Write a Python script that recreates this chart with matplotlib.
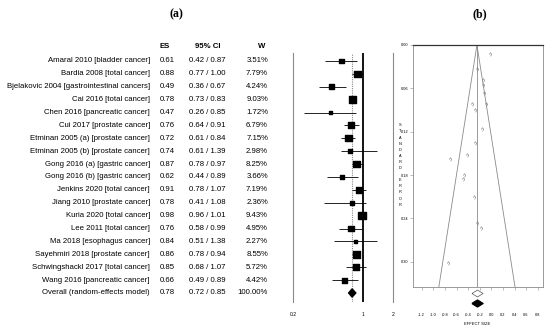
import matplotlib
matplotlib.use("Agg")
import matplotlib.pyplot as plt
import matplotlib.transforms as mtransforms

plt.rcParams['font.family'] = ['Liberation Sans', 'DejaVu Sans']

# ---- data ----
studies = [
    "Amaral 2010 [bladder cancer]",
    "Bardia 2008 [total cancer]",
    "Bjelakovic 2004 [gastrointestinal cancers]",
    "Cai 2016 [total cancer]",
    "Chen 2016 [pancreatic cancer]",
    "Cui 2017 [prostate cancer]",
    "Etminan 2005 (a) [prostate cancer]",
    "Etminan 2005 (b) [prostate cancer]",
    "Gong 2016 (a) [gastric cancer]",
    "Gong 2016 (b) [gastric cancer]",
    "Jenkins 2020 [total cancer]",
    "Jiang 2010 [prostate cancer]",
    "Kuria 2020 [total cancer]",
    "Lee 2011 [total cancer]",
    "Ma 2018 [esophagus cancer]",
    "Sayehmiri 2018 [prostate cancer]",
    "Schwingshackl 2017 [total cancer]",
    "Wang 2016 [pancreatic cancer]",
]
es = [0.61, 0.88, 0.49, 0.78, 0.47, 0.76, 0.72, 0.74, 0.87, 0.62, 0.91, 0.78, 0.98, 0.76, 0.84, 0.86, 0.85, 0.66]
ci_lo = [0.42, 0.77, 0.36, 0.73, 0.26, 0.64, 0.61, 0.61, 0.78, 0.44, 0.78, 0.41, 0.96, 0.58, 0.51, 0.78, 0.68, 0.49]
ci_hi = [0.87, 1.00, 0.67, 0.83, 0.85, 0.91, 0.84, 1.39, 0.97, 0.89, 1.07, 1.08, 1.01, 0.99, 1.38, 0.94, 1.07, 0.89]
weights = [3.51, 7.79, 4.24, 9.03, 1.72, 6.79, 7.15, 2.98, 8.25, 3.66, 7.19, 2.36, 9.43, 4.95, 2.27, 8.55, 5.72, 4.42]

overall_label = "Overall (random-effects model)"
overall_es = 0.78
overall_lo = 0.72
overall_hi = 0.85

# funnel plot: log effect size vs standard error
funnel_logrr = [-0.494, -0.128, -0.713, -0.248, -0.755, -0.274, -0.329, -0.301, -0.139,
                -0.478, -0.094, -0.248, -0.020, -0.274, -0.174, -0.151, -0.163, -0.416]
funnel_se = [0.186, 0.067, 0.158, 0.033, 0.302, 0.090, 0.082, 0.210, 0.056,
             0.180, 0.081, 0.247, 0.013, 0.136, 0.254, 0.048, 0.116, 0.152]
funnel_center = -0.248
funnel_xticks = [-1.2, -1.0, -0.8, -0.6, -0.4, -0.2, 0.0, 0.2, 0.4, 0.6, 0.8]
funnel_yticks = [0.0, 0.06, 0.12, 0.18, 0.24, 0.30]

W, H = 550, 332
fig = plt.figure(figsize=(W / 100, H / 100), dpi=100)

def fx(px):
    return px / W

def fy(py):
    return 1 - py / H

grey = '#8a8a8a'

# ---- (a) forest plot ----
ax = fig.add_axes([fx(293), fy(302), fx(100), 249 / H])
ax.set_xscale('log')
ax.set_xlim(0.2, 2)
n = len(studies)
ax.set_ylim(n + 0.7, -0.62)
for s in ax.spines.values():
    s.set_visible(False)

ax.axvline(0.2, color=grey, lw=0.8, clip_on=False)
ax.axvline(2, color=grey, lw=0.8, clip_on=False)
ax.axvline(1, color='black', lw=1.3)
ax.axvline(overall_es, color=grey, lw=0.8, ls=(0, (1, 1)))

rows = list(range(n))
ax.hlines(rows, ci_lo, ci_hi, color='black', lw=0.6)
ax.scatter(es, rows, s=[27 * w / 9.43 for w in weights], marker='s', color='black', zorder=3)
ax.fill([overall_lo, overall_es, overall_hi, overall_es],
        [n, n - 0.32, n, n + 0.32], color='black', zorder=3)

ax.set_xticks([0.2, 1, 2])
ax.set_xticklabels(['0.2', '1', '2'])
ax.minorticks_off()
ax.tick_params(axis='x', length=0, pad=7, labelsize=3.6)
ax.set_yticks([])

trans = mtransforms.blended_transform_factory(fig.transFigure, ax.transData)
fs = 5.6
hy = -1.1
ax.text(fx(165), hy, 'ES', transform=trans, ha='center', va='center', fontsize=fs, fontweight='bold')
ax.text(fx(208), hy, '95% CI', transform=trans, ha='center', va='center', fontsize=fs, fontweight='bold')
ax.text(fx(262), hy, 'W', transform=trans, ha='center', va='center', fontsize=fs, fontweight='bold')

labels = studies + [overall_label]
es_all = es + [overall_es]
lo_all = ci_lo + [overall_lo]
hi_all = ci_hi + [overall_hi]
w_all = weights + [100.0]
for i in range(n + 1):
    ax.text(fx(150), i, labels[i], transform=trans, ha='right', va='center', fontsize=fs)
    ax.text(fx(167), i, '%.2f' % es_all[i], transform=trans, ha='center', va='center', fontsize=fs)
    ax.text(fx(207), i, '%.2f / %.2f' % (lo_all[i], hi_all[i]), transform=trans,
            ha='center', va='center', fontsize=fs)
    ax.text(fx(268), i, '%.2f%%' % w_all[i], transform=trans, ha='right', va='center', fontsize=fs)

fig.text(fx(176), fy(14), '(a)', ha='center', va='center', fontsize=8.5,
         fontweight='bold', family='Liberation Serif')
fig.text(fx(480), fy(14), '(b)', ha='center', va='center', fontsize=8.5,
         fontweight='bold', family='Liberation Serif')

# ---- (b) funnel plot ----
fax = fig.add_axes([fx(413), fy(287), fx(130), 242 / H])
fax.set_xlim(-1.35, 0.891)
se_max = 0.335
fax.set_ylim(se_max, 0)
fax.spines['top'].set_color('#333333')
fax.spines['top'].set_linewidth(0.9)
for side in ['left', 'right', 'bottom']:
    fax.spines[side].set_color(grey)
    fax.spines[side].set_linewidth(0.6)

fax.axvline(funnel_center, color=grey, lw=0.6)
half = 1.96 * se_max
fax.plot([funnel_center - half, funnel_center, funnel_center + half], [se_max, 0, se_max],
         color=grey, lw=0.6)
fax.plot(funnel_logrr, funnel_se, linestyle='none', marker=[(-0.7, 0), (0, 1), (0.7, 0), (0, -1)],
         mfc='none', mec='#777777', ms=2.6, mew=0.4)

diamond = [(-1, 0), (0, 0.62), (1, 0), (0, -0.62), (-1, 0)]
dtrans = mtransforms.blended_transform_factory(fax.transData, fax.transAxes)
fax.plot([funnel_center], [-0.026], marker=diamond, ms=8, mfc='white', mec='#555555', mew=0.5,
         transform=dtrans, clip_on=False)
fax.plot([funnel_center], [-0.068], marker=diamond, ms=8, mfc='black', mec='black',
         transform=dtrans, clip_on=False)

fax.set_xticks(funnel_xticks)
fax.set_xticklabels(['%.1f' % v for v in funnel_xticks])
fax.set_yticks(funnel_yticks)
fax.set_yticklabels(['%.2f' % v for v in funnel_yticks])
fax.tick_params(axis='x', length=2, width=0.4, color=grey, pad=17, labelsize=2.8)
fax.tick_params(axis='y', length=2, width=0.4, color=grey, pad=1, labelsize=2.8)

fig.text(fx(477), fy(324), 'EFFECT SIZE', ha='center', va='center', fontsize=3)
fig.text(fx(400), fy(165), '\n'.join('STANDARD ERROR'), ha='center', va='center',
         fontsize=2.8, linespacing=1.7)

fig.savefig('out.png', dpi=100, facecolor='white')
